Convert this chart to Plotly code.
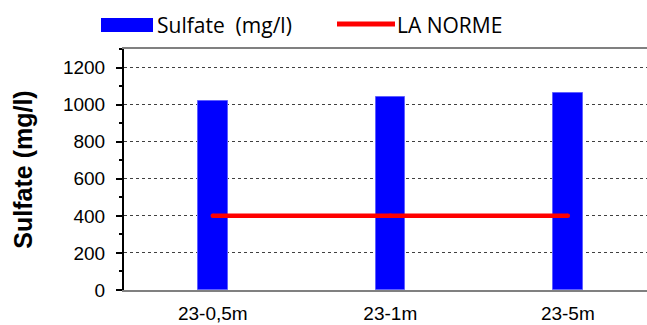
import plotly.graph_objects as go

# Sampling points and measured sulfate concentration
sites = ["23-0,5m", "23-1m", "23-5m"]
sulfate = [1020, 1040, 1060]
norme = [400, 400, 400]

# Figure geometry in pixels
W, H = 647, 325
L, R, T, B = 124, 647, 49, 290


def px(x):
    return (x - L) / (R - L)


def py(y):
    return (B - y) / (B - T)


fig = go.Figure()

fig.add_trace(go.Bar(
    x=sites, y=sulfate, name="Sulfate  (mg/l)",
    width=0.166,
    marker=dict(color="#0000FF", line=dict(color="#6060FF", width=1)),
    showlegend=False,
))

fig.add_trace(go.Scatter(
    x=sites, y=norme, name="LA NORME", mode="lines+markers",
    line=dict(color="#FF0000", width=4.5),
    marker=dict(color="#FF0000", size=4.5),
    showlegend=False,
))

# Hand-drawn legend (wide swatches above the plot)
legend_font = dict(family="Open Sans", size=21, color="#000000")
fig.add_shape(type="rect", xref="paper", yref="paper",
              x0=px(101), x1=px(153), y0=py(32), y1=py(18),
              fillcolor="#0000FF", line=dict(width=0))
fig.add_annotation(xref="paper", yref="paper", x=px(155), y=py(25),
                   xanchor="left", yanchor="middle", showarrow=False,
                   text="Sulfate  (mg/l)", font=legend_font)
fig.add_shape(type="line", xref="paper", yref="paper",
              x0=px(337), x1=px(395), y0=py(24), y1=py(24),
              line=dict(color="#FF0000", width=5))
fig.add_annotation(xref="paper", yref="paper", x=px(395), y=py(25),
                   xanchor="left", yanchor="middle", showarrow=False,
                   text="LA NORME", font=legend_font)

tick_font = dict(family="Liberation Sans, Arial", size=19, color="#000000")

fig.update_layout(
    width=W, height=H, autosize=False,
    margin=dict(l=L, r=W - R, t=T, b=H - B, autoexpand=False),
    paper_bgcolor="white", plot_bgcolor="white",
    bargap=0,
)

fig.update_xaxes(
    type="category", range=[-0.5, 2.446],
    showline=True, linecolor="#808080", linewidth=2, mirror=True,
    showgrid=False, ticks="", tickfont=tick_font, ticklabelstandoff=5,
)

fig.update_yaxes(
    range=[0, 1300], dtick=200, tick0=0,
    showline=True, linecolor="#000000", linewidth=2,
    ticks="outside", ticklen=6, tickwidth=2, tickcolor="#000000",
    minor=dict(dtick=100, ticks="outside", ticklen=3.5, tickwidth=2,
               tickcolor="#000000", showgrid=False),
    showgrid=True, gridcolor="#404040", gridwidth=1, griddash="dot",
    zeroline=False, tickfont=tick_font, ticklabelstandoff=7,
    title=dict(text="<b>Sulfate (mg/l)</b>", standoff=23,
               font=dict(family="Liberation Sans, Arial", size=25, color="#000000")),
)

fig.write_html("out.html")
